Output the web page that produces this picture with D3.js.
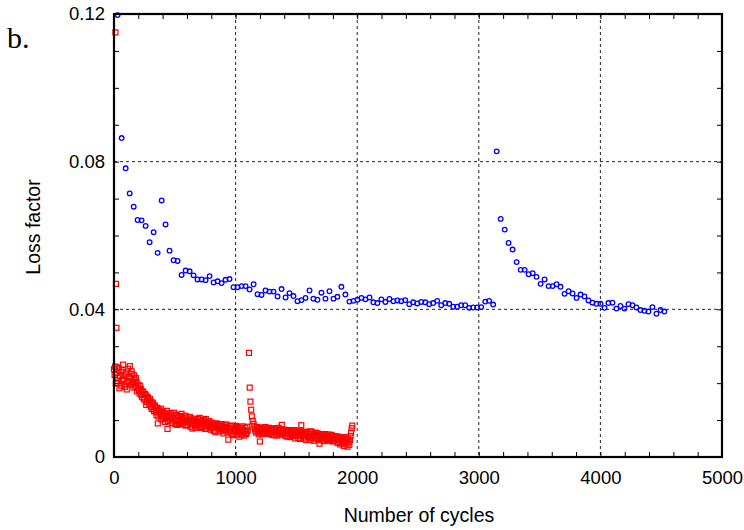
<!DOCTYPE html>
<html>
<head>
<meta charset="utf-8">
<script src="https://cdn.jsdelivr.net/npm/d3@7"></script>
<style>
  body { margin: 0; background: #fff; }
</style>
</head>
<body>
<svg id="chart"></svg>
<script>
// blue series (circles)
var blueCycles = [30, 63, 96, 129, 162, 194, 227, 260, 293, 326, 359, 392, 424, 457, 490, 523, 556, 589, 622, 654,
  687, 720, 753, 786, 819, 852, 885, 917, 950, 983, 1016, 1049, 1082, 1115, 1148, 1180, 1213, 1246, 1279, 1312,
  1345, 1378, 1411, 1443, 1476, 1509, 1542, 1575, 1608, 1640, 1673, 1706, 1739, 1772, 1805, 1837, 1870, 1903, 1936, 1969,
  2002, 2035, 2068, 2101, 2133, 2166, 2199, 2232, 2265, 2298, 2331, 2362, 2395, 2428, 2461, 2494, 2527, 2560, 2592, 2625,
  2658, 2691, 2724, 2757, 2790, 2822, 2855, 2888, 2921, 2954, 2987, 3020, 3053, 3085, 3118,
  3147, 3180, 3213, 3245, 3278, 3311, 3344, 3377, 3410, 3443, 3475, 3508, 3541, 3574, 3607, 3640, 3672, 3705, 3738, 3771,
  3804, 3837, 3869, 3902, 3935, 3968, 4001, 4034, 4066, 4099, 4132, 4165, 4198, 4231, 4264, 4296, 4329, 4362, 4395, 4428,
  4461, 4494, 4526];
var blueLoss = [0.1197, 0.0864, 0.0782, 0.0714, 0.0678, 0.0642, 0.0641, 0.0626, 0.0582, 0.0609, 0.0553, 0.0695, 0.0630, 0.0559, 0.0533, 0.0531, 0.0493, 0.0505, 0.0503, 0.0492,
  0.0481, 0.0481, 0.0479, 0.0490, 0.0473, 0.0476, 0.0471, 0.0480, 0.0482, 0.0460, 0.0460, 0.0463, 0.0463, 0.0454, 0.0468, 0.0441, 0.0439, 0.0451, 0.0448, 0.0448,
  0.0435, 0.0455, 0.0432, 0.0444, 0.0436, 0.0422, 0.0425, 0.0431, 0.0451, 0.0429, 0.0426, 0.0445, 0.0429, 0.0449, 0.0429, 0.0434, 0.0461, 0.0440, 0.0421, 0.0423,
  0.0426, 0.0431, 0.0427, 0.0432, 0.0419, 0.0417, 0.0427, 0.0420, 0.0428, 0.0422, 0.0424, 0.0422, 0.0425, 0.0414, 0.0419, 0.0416, 0.0420, 0.0419, 0.0414, 0.0417,
  0.0423, 0.0411, 0.0417, 0.0415, 0.0407, 0.0407, 0.0411, 0.0411, 0.0404, 0.0405, 0.0405, 0.0406, 0.0421, 0.0423, 0.0413,
  0.0828, 0.0645, 0.0616, 0.0580, 0.0562, 0.0528, 0.0507, 0.0507, 0.0495, 0.0498, 0.0488, 0.0469, 0.0481, 0.0463, 0.0463, 0.0468, 0.0461, 0.0442, 0.0449, 0.0443,
  0.0431, 0.0440, 0.0435, 0.0424, 0.0418, 0.0415, 0.0415, 0.0404, 0.0417, 0.0418, 0.0402, 0.0409, 0.0402, 0.0414, 0.0411, 0.0405, 0.0398, 0.0396, 0.0394, 0.0406,
  0.0388, 0.0398, 0.0394];

// red series (squares), first pass of readings
var redCycles = [12, 16, 20,
  0, 10, 20, 30, 40, 50, 60, 70, 80, 90, 100, 110, 120, 130, 140, 150, 160, 170, 180, 190,
  200, 210, 220, 230, 240, 250, 260, 270, 280, 290, 300, 310, 320, 330, 340, 350, 360, 370, 380, 390,
  400, 410, 420, 430, 440, 450, 460, 470, 480, 490, 500, 510, 520, 530, 540, 550, 560, 570, 580, 590,
  600, 610, 620, 630, 640, 650, 660, 670, 680, 690, 700, 710, 720, 730, 740, 750, 760, 770, 780, 790,
  800, 810, 820, 830, 840, 850, 860, 870, 880, 890, 900, 910, 920, 930, 940, 950, 960, 970, 980, 990,
  1000, 1010, 1020, 1030, 1040, 1050, 1060, 1070, 1080, 1090, 1100,
  1110, 1116, 1122, 1128, 1134, 1140, 1148, 1155, 1160, 1170, 1180, 1190,
  1200, 1210, 1220, 1230, 1240, 1250, 1260, 1270, 1280, 1290, 1300, 1310, 1320, 1330, 1340, 1350, 1360, 1370, 1380, 1390,
  1400, 1410, 1420, 1430, 1440, 1450, 1460, 1470, 1480, 1490, 1500, 1510, 1520, 1530, 1540, 1550, 1560, 1570, 1580, 1590,
  1600, 1610, 1620, 1630, 1640, 1650, 1660, 1670, 1680, 1690, 1700, 1710, 1720, 1730, 1740, 1750, 1760, 1770, 1780, 1790,
  1800, 1810, 1820, 1830, 1840, 1850, 1860, 1870, 1880, 1890, 1900, 1910, 1920, 1930, 1940, 1945, 1950, 1955, 1960];
var redLoss = [0.1150, 0.0469, 0.0350,
  0.0238, 0.0245, 0.0229, 0.0201, 0.0240, 0.0219, 0.0193, 0.0236, 0.0212, 0.0190, 0.0229, 0.0205, 0.0218, 0.0246, 0.0196, 0.0225, 0.0188, 0.0209, 0.0214, 0.0178,
  0.0196, 0.0172, 0.0184, 0.0162, 0.0176, 0.0155, 0.0168, 0.0149, 0.0160, 0.0143, 0.0152, 0.0130, 0.0145, 0.0124, 0.0136, 0.0113, 0.0091, 0.0128, 0.0117, 0.0102,
  0.0122, 0.0109, 0.0095, 0.0114, 0.0076, 0.0118, 0.0101, 0.0110, 0.0092, 0.0115, 0.0098, 0.0106, 0.0087, 0.0111, 0.0100, 0.0090, 0.0108, 0.0096, 0.0112, 0.0085,
  0.0099, 0.0093, 0.0104, 0.0082, 0.0098, 0.0090, 0.0101, 0.0079, 0.0094, 0.0103, 0.0086, 0.0097, 0.0081, 0.0092, 0.0100, 0.0076, 0.0089, 0.0095, 0.0083, 0.0091,
  0.0078, 0.0087, 0.0071, 0.0090, 0.0080, 0.0085, 0.0069, 0.0088, 0.0076, 0.0083, 0.0064, 0.0086, 0.0073, 0.0081, 0.0047, 0.0078, 0.0066, 0.0084, 0.0059, 0.0075,
  0.0081, 0.0062, 0.0077, 0.0055, 0.0080, 0.0068, 0.0074, 0.0058, 0.0079, 0.0065, 0.0072,
  0.0282, 0.0188, 0.0150, 0.0128, 0.0110, 0.0098, 0.0090, 0.0082, 0.0075, 0.0066, 0.0079, 0.0061,
  0.0042, 0.0076, 0.0068, 0.0080, 0.0064, 0.0073, 0.0078, 0.0062, 0.0071, 0.0077, 0.0060, 0.0074, 0.0067, 0.0078, 0.0058, 0.0070, 0.0066, 0.0075, 0.0087, 0.0061,
  0.0072, 0.0057, 0.0068, 0.0063, 0.0073, 0.0054, 0.0066, 0.0060, 0.0071, 0.0050, 0.0064, 0.0058, 0.0069, 0.0049, 0.0086, 0.0062, 0.0056, 0.0068, 0.0046, 0.0063,
  0.0057, 0.0069, 0.0052, 0.0061, 0.0044, 0.0059, 0.0066, 0.0051, 0.0060, 0.0036, 0.0055, 0.0062, 0.0048, 0.0057, 0.0053, 0.0047, 0.0058, 0.0044, 0.0053, 0.0060,
  0.0042, 0.0052, 0.0047, 0.0056, 0.0038, 0.0050, 0.0034, 0.0046, 0.0052, 0.0030, 0.0043, 0.0048, 0.0028, 0.0040, 0.0045, 0.0057, 0.0066, 0.0078, 0.0085];

// red series, in-between readings
var redCycles2 = [5, 15, 25, 35, 45, 55, 65, 75, 85, 95, 105, 115, 125, 135, 145, 155, 165, 175, 185, 195,
  205, 215, 225, 235, 245, 255, 265, 275, 285, 295, 305, 315, 325, 335, 345, 355, 365, 375, 385, 395,
  405, 415, 425, 435, 445, 455, 465, 475, 485, 495, 505, 515, 525, 535, 545, 555, 565, 575, 585, 595,
  605, 615, 625, 635, 645, 655, 665, 675, 685, 695, 705, 715, 725, 735, 745, 755, 765, 775, 785, 795,
  805, 815, 825, 835, 845, 855, 865, 875, 885, 895, 905, 915, 925, 935, 945, 955, 965, 975, 985, 995,
  1005, 1015, 1025, 1035, 1045, 1055, 1065, 1075, 1085, 1095,
  1165, 1175, 1185, 1195, 1205, 1215, 1225, 1235, 1245, 1255, 1265, 1275, 1285, 1295, 1305, 1315, 1325, 1335, 1345, 1355, 1365, 1375, 1385, 1395,
  1405, 1415, 1425, 1435, 1445, 1455, 1465, 1475, 1485, 1495, 1505, 1515, 1525, 1535, 1545, 1555, 1565, 1575, 1585, 1595,
  1605, 1615, 1625, 1635, 1645, 1655, 1665, 1675, 1685, 1695, 1705, 1715, 1725, 1735, 1745, 1755, 1765, 1775, 1785, 1795,
  1805, 1815, 1825, 1835, 1845, 1855, 1865, 1875, 1885, 1895, 1905, 1915, 1925, 1935];
var redLoss2 = [0.0222, 0.0199, 0.0243, 0.0214, 0.0186, 0.0231, 0.0208, 0.0250, 0.0197, 0.0221, 0.0183, 0.0239, 0.0202, 0.0215, 0.0232, 0.0199, 0.0221, 0.0192, 0.0203, 0.0187,
  0.0181, 0.0193, 0.0168, 0.0178, 0.0159, 0.0171, 0.0141, 0.0163, 0.0150, 0.0157, 0.0136, 0.0148, 0.0129, 0.0140, 0.0121, 0.0133, 0.0110, 0.0124, 0.0131, 0.0112,
  0.0103, 0.0119, 0.0106, 0.0125, 0.0097, 0.0108, 0.0119, 0.0093, 0.0105, 0.0120, 0.0089, 0.0114, 0.0097, 0.0091, 0.0109, 0.0117, 0.0088, 0.0105, 0.0094, 0.0110,
  0.0087, 0.0099, 0.0108, 0.0091, 0.0077, 0.0104, 0.0086, 0.0099, 0.0083, 0.0093, 0.0106, 0.0079, 0.0098, 0.0085, 0.0093, 0.0103, 0.0080, 0.0088, 0.0097, 0.0074,
  0.0093, 0.0082, 0.0086, 0.0067, 0.0091, 0.0079, 0.0084, 0.0072, 0.0089, 0.0078, 0.0070, 0.0082, 0.0088, 0.0066, 0.0079, 0.0071, 0.0085, 0.0062, 0.0080, 0.0070,
  0.0084, 0.0071, 0.0063, 0.0078, 0.0060, 0.0083, 0.0066, 0.0071, 0.0062, 0.0082,
  0.0070, 0.0081, 0.0072, 0.0066, 0.0079, 0.0062, 0.0072, 0.0069, 0.0081, 0.0065, 0.0070, 0.0079, 0.0063, 0.0069, 0.0076, 0.0059, 0.0072, 0.0064, 0.0073, 0.0079, 0.0061, 0.0069, 0.0065, 0.0074,
  0.0066, 0.0071, 0.0055, 0.0068, 0.0062, 0.0070, 0.0057, 0.0065, 0.0073, 0.0059, 0.0067, 0.0052, 0.0063, 0.0071, 0.0058, 0.0066, 0.0050, 0.0060, 0.0068, 0.0054,
  0.0064, 0.0047, 0.0069, 0.0056, 0.0063, 0.0050, 0.0058, 0.0064, 0.0046, 0.0057, 0.0051, 0.0059, 0.0043, 0.0062, 0.0049, 0.0055, 0.0061, 0.0046, 0.0056, 0.0050,
  0.0057, 0.0044, 0.0053, 0.0049, 0.0055, 0.0041, 0.0052, 0.0039, 0.0048, 0.0054, 0.0036, 0.0046, 0.0050, 0.0033];

var xTicks = [0, 1000, 2000, 3000, 4000, 5000];
var yTicks = [0, 0.04, 0.08, 0.12];
var xLabel = "Number of cycles";
var yLabel = "Loss factor";
var panelLabel = "b.";

var W = 744, H = 530;
var pLeft = 114, pRight = 722, pTop = 14, pBottom = 457;
var sans = "'Liberation Sans', Arial, Helvetica, sans-serif";

var svg = d3.select("#chart").attr("width", W).attr("height", H);

var x = d3.scaleLinear().domain([0, 5000]).range([pLeft, pRight]);
var y = d3.scaleLinear().domain([0, 0.12]).range([pBottom, pTop]);

var xMinor = d3.range(0, 5001, 200);
var yMinor = d3.range(0, 0.1201, 0.01);

// grid
svg.append("g").selectAll("line").data(xTicks.slice(1, -1)).enter().append("line")
  .attr("x1", d => x(d)).attr("x2", d => x(d))
  .attr("y1", pTop).attr("y2", pBottom)
  .attr("stroke", "#222").attr("stroke-width", 1).attr("stroke-dasharray", "3,3");
svg.append("g").selectAll("line").data(yTicks.slice(1, -1)).enter().append("line")
  .attr("y1", d => y(d)).attr("y2", d => y(d))
  .attr("x1", pLeft).attr("x2", pRight)
  .attr("stroke", "#222").attr("stroke-width", 1).attr("stroke-dasharray", "3,3");

// inward ticks on all four sides
function ticks(axis, pos) {
  var g = svg.append("g").attr("transform", pos).call(axis);
  g.select(".domain").remove();
  g.selectAll("text").remove();
  g.selectAll("line").attr("stroke", "#000").attr("stroke-width", 1);
}
ticks(d3.axisBottom(x).tickValues(xMinor).tickSize(-5), "translate(0," + pBottom + ")");
ticks(d3.axisTop(x).tickValues(xMinor).tickSize(-5), "translate(0," + pTop + ")");
ticks(d3.axisLeft(y).tickValues(yMinor).tickSize(-5), "translate(" + pLeft + ",0)");
ticks(d3.axisRight(y).tickValues(yMinor).tickSize(-5), "translate(" + pRight + ",0)");

// tick labels
var xAxis = svg.append("g").attr("transform", "translate(0," + pBottom + ")")
  .call(d3.axisBottom(x).tickValues(xTicks).tickSize(0).tickPadding(14).tickFormat(d3.format("d")));
xAxis.select(".domain").remove();
xAxis.selectAll("text").attr("fill", "#000").style("font-size", "18.5px").style("font-family", sans);

var yAxis = svg.append("g").attr("transform", "translate(" + pLeft + ",0)")
  .call(d3.axisLeft(y).tickValues(yTicks).tickSize(0).tickPadding(9)
    .tickFormat(d => d === 0 ? "0" : d3.format(".2f")(d)));
yAxis.select(".domain").remove();
yAxis.selectAll("text").attr("fill", "#000").style("font-size", "18.5px").style("font-family", sans);

// blue circles
svg.append("g").selectAll("circle").data(blueCycles).enter().append("circle")
  .attr("cx", (d, i) => x(d)).attr("cy", (d, i) => y(blueLoss[i]))
  .attr("r", 2.3).attr("fill", "none").attr("stroke", "#0000ff").attr("stroke-width", 1.3);

// red squares
var redPts = redCycles.map((c, i) => [c, redLoss[i]])
  .concat(redCycles2.map((c, i) => [c, redLoss2[i]]));
svg.append("g").selectAll("rect").data(redPts).enter().append("rect")
  .attr("x", d => x(d[0]) - 2.5).attr("y", d => y(d[1]) - 2.5)
  .attr("width", 5).attr("height", 5)
  .attr("fill", "none").attr("stroke", "#ff0000").attr("stroke-width", 1.2);

// frame
svg.append("rect").attr("x", pLeft).attr("y", pTop)
  .attr("width", pRight - pLeft).attr("height", pBottom - pTop)
  .attr("fill", "none").attr("stroke", "#000").attr("stroke-width", 2.2);

// axis titles
svg.append("text").attr("x", (pLeft + pRight) / 2 + 1).attr("y", 522)
  .attr("text-anchor", "middle").style("font-size", "19.5px").style("font-family", sans).text(xLabel);
svg.append("text").attr("transform", "translate(40,227) rotate(-90)")
  .attr("text-anchor", "middle").style("font-size", "19.5px").style("font-family", sans).text(yLabel);

svg.append("text").attr("x", 7).attr("y", 48)
  .style("font-family", "'Liberation Serif', 'Times New Roman', serif")
  .style("font-size", "30px").text(panelLabel);
</script>
</body>
</html>
